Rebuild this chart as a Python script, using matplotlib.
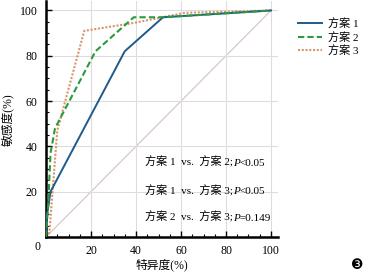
import numpy as np
import matplotlib.pyplot as plt
from matplotlib.ticker import MultipleLocator
from matplotlib.offsetbox import TextArea, HPacker, AnnotationBbox

plt.rcParams['font.family'] = ['Liberation Serif', 'Noto Sans CJK SC', 'DejaVu Sans']

# ROC data (100 - specificity, sensitivity)
x1 = [0, 0.5, 2, 35, 52, 100]
y1 = [0, 10, 20, 82, 97, 100]
x2 = [0, 1, 2, 4, 22, 39, 52, 100]
y2 = [0, 15, 37, 48, 82, 97, 97, 100]
x3 = [0, 1.5, 5, 17, 39, 62, 100]
y3 = [0, 2, 47, 91, 94.5, 99, 100]
labels = ['方案 1', '方案 2', '方案 3']
note_pre = ['方案 1  vs.  方案 2;', '方案 1  vs.  方案 3;', '方案 2  vs.  方案 3;']
note_post = ['<0.05', '<0.05', '=0.149']
note_y = [33, 20.5, 8.7]
ticks = [20, 40, 60, 80, 100]

fig = plt.figure(figsize=(3.69, 2.77), dpi=100)
ax = fig.add_axes([0.1247, 0.1444, 0.628, 0.8505])

ax.plot([0, 100], [0, 100], color='#dcc6c8', lw=0.9, zorder=1)
ax.plot(x1, y1, color='#1f5a8c', lw=1.4, label=labels[0], zorder=3)
ax.plot(x2, y2, color='#2a9a3c', lw=1.5, ls=(0, (3, 1.5)), label=labels[1], zorder=4)
ax.plot(x3, y3, color='#d8956a', lw=1.5, ls=(0, (1, 0.8)), label=labels[2], zorder=2)

ax.set_xlim(0, 103)
ax.set_ylim(0, 104)
ax.set_xticks(ticks)
ax.set_yticks(ticks)
ax.xaxis.set_minor_locator(MultipleLocator(5))
ax.yaxis.set_minor_locator(MultipleLocator(5))
ax.grid(True, which='major', color='#dddddd', lw=0.8, zorder=0)
ax.tick_params(which='major', direction='in', length=4, width=1, labelsize=8.5, pad=6)
ax.tick_params(which='minor', direction='in', length=2.5, width=0.8)
for s in ['top', 'right']:
    ax.spines[s].set_visible(False)
for s in ['left', 'bottom']:
    ax.spines[s].set_linewidth(1.8)

ax.annotate('0', xy=(0, 0), xytext=(-6, -7), textcoords='offset points',
            ha='center', va='center', fontsize=8.5)
ax.set_xlabel('特异度(%)', fontsize=8.5, labelpad=1)
ax.set_ylabel('敏感度(%)', fontsize=8.5, labelpad=4)

# p-value notes, italic P
for pre, post, yv in zip(note_pre, note_post, note_y):
    parts = [TextArea(pre, textprops=dict(fontsize=8)),
             TextArea('P', textprops=dict(fontsize=8, style='italic')),
             TextArea(post, textprops=dict(fontsize=8))]
    box = HPacker(children=parts, pad=0, sep=0, align='baseline')
    ab = AnnotationBbox(box, (44, yv), xycoords='data', box_alignment=(0, 0.5),
                        frameon=False, pad=0)
    ax.add_artist(ab)

fig.legend(loc='upper left', bbox_to_anchor=(0.78, 0.97), frameon=False,
           fontsize=8, handlelength=2.2, labelspacing=0.2, handletextpad=0.5)

fig.text(0.968, 0.043, '\u2778', fontsize=10, ha='center', va='center', family='DejaVu Sans')

fig.savefig('out.png', dpi=100)
